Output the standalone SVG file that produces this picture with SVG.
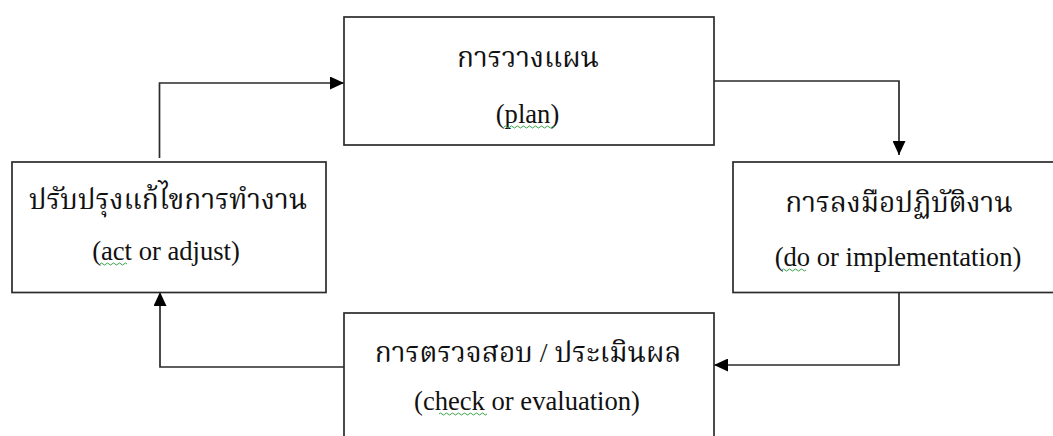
<svg xmlns="http://www.w3.org/2000/svg" width="1053" height="436" viewBox="0 0 1053 436">
  <style>
    .box { fill: #ffffff; stroke: #2b2b2b; stroke-width: 1.7; }
    .wire { fill: none; stroke: #2b2b2b; stroke-width: 1.7; }
    .th { font-family: "Liberation Serif", "Noto Serif Thai", "Noto Sans Thai", "DejaVu Sans", serif; font-size: 28px; fill: #111111; text-anchor: middle; }
    .en { font-family: "Liberation Serif", serif; font-size: 26.6px; fill: #111111; text-anchor: middle; }
    .squig { fill: none; stroke: #3aa34a; stroke-width: 1; }
  </style>
  <defs>
    <marker id="arrow" viewBox="0 0 14 13" refX="14" refY="6.5" markerWidth="14" markerHeight="13" markerUnits="userSpaceOnUse" orient="auto">
      <path d="M0,0 L14,6.5 L0,13 Z" fill="#000000"/>
    </marker>
  </defs>

  <rect width="1053" height="436" fill="#ffffff"/>

  <!-- connectors between the four stages -->
  <g id="connectors">
    <path class="wire" d="M159.5,158 V83 H344" marker-end="url(#arrow)"/>
    <path class="wire" d="M714,81 H899 V155" marker-end="url(#arrow)"/>
    <path class="wire" d="M899,292 V365 H714" marker-end="url(#arrow)"/>
    <path class="wire" d="M344,367 H160 V292" marker-end="url(#arrow)"/>
  </g>

  <g id="plan">
    <rect class="box" x="344" y="17" width="370" height="128"/>
    <text class="th" x="528" y="67">การวางแผน</text>
    <text class="en" x="527.5" y="123">(plan)</text>
    <path class="squig" d="M504,127 q1.5,-2 3,0 t3,0 t3,0 t3,0 t3,0 t3,0 t3,0 t3,0 t3,0 t3,0 t3,0 t3,0 t3,0 t3,0 t3,0 t3,0 t3,0"/>
  </g>

  <g id="do">
    <rect class="box" x="733" y="162" width="330" height="130.5"/>
    <text class="th" x="899" y="212">การลงมือปฏิบัติงาน</text>
    <text class="en" x="898" y="266">(do or implementation)</text>
    <path class="squig" d="M782,270 q1.5,-2 3,0 t3,0 t3,0 t3,0 t3,0 t3,0 t3,0 t3,0"/>
  </g>

  <g id="check">
    <rect class="box" x="344" y="313" width="370" height="140"/>
    <text class="th" x="528" y="362">การตรวจสอบ / ประเมินผล</text>
    <text class="en" x="527" y="410">(check or evaluation)</text>
    <path class="squig" d="M439,414 q1.5,-2 3,0 t3,0 t3,0 t3,0 t3,0 t3,0 t3,0 t3,0 t3,0 t3,0 t3,0 t3,0 t3,0 t3,0 t3,0 t3,0"/>
  </g>

  <g id="act">
    <rect class="box" x="12" y="162" width="314" height="130.5"/>
    <text class="th" x="168" y="209">ปรับปรุงแก้ไขการทำงาน</text>
    <text class="en" x="166" y="260">(act or adjust)</text>
    <path class="squig" d="M100,264 q1.5,-2 3,0 t3,0 t3,0 t3,0 t3,0 t3,0 t3,0 t3,0 t3,0"/>
  </g>
</svg>
